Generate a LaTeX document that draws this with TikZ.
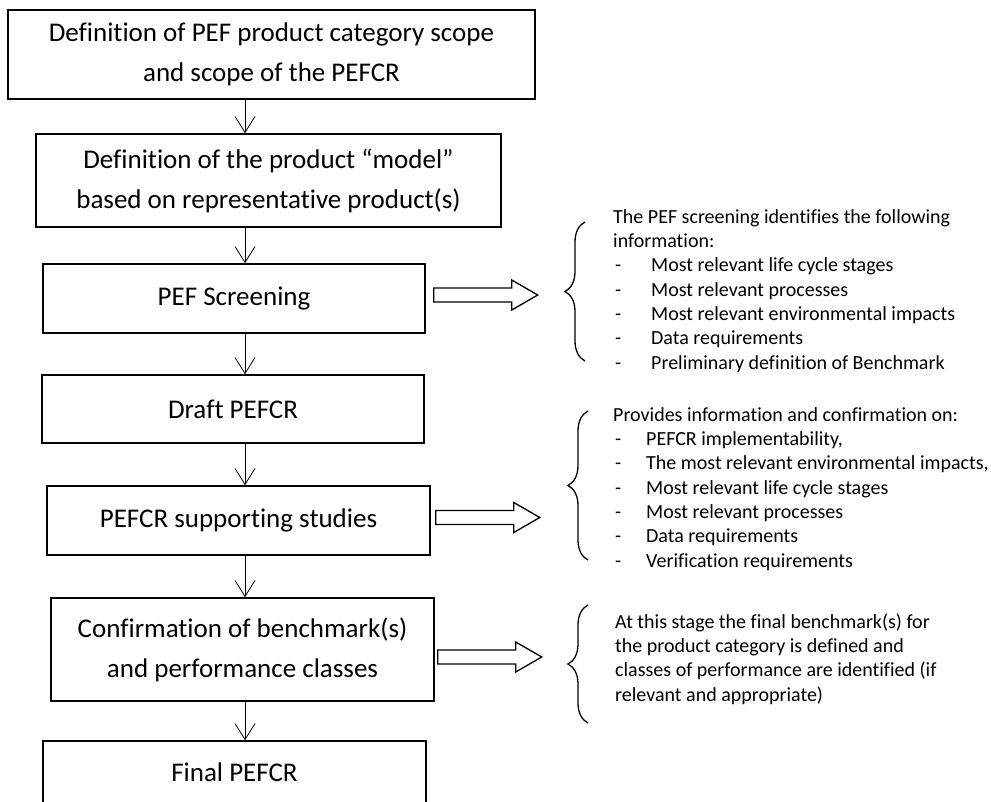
\documentclass[tikz,border=0pt]{standalone}
\usepackage{fontspec}
\setmainfont{Carlito}[Ligatures=NoCommon]
\usepackage{tikz}
\usetikzlibrary{arrows.meta,decorations.pathreplacing,calc}
\newcommand{\itemdash}[1]{\makebox[#1][l]{\hspace{2pt}-}}

\begin{document}
\begin{tikzpicture}[x=1pt, y=-1pt,
            stagebox/.style={draw, line width=1.5pt, inner sep=0pt, align=center,
                font=\fontsize{27}{40}\selectfont},
            flow/.style={-{Straight Barb[length=16pt, width=20pt]}, line width=0.8pt},
            infobrace/.style={decorate, decoration={brace, amplitude=20pt}, line width=1.3pt},
            infotext/.style={anchor=north west, align=left, inner sep=0pt,
                font=\fontsize{20}{24.3}\selectfont},
            fatarrow/.pic={\draw[line width=1.3pt] (0,-7) -- (78,-7) -- (78,-15) -- (104,0)
                -- (78,15) -- (78,7) -- (0,7) -- cycle;}]
            \useasboundingbox (0,0) rectangle (991,802);
            \coordinate (axis) at (245, 0);
            \node at (271.5, 54.5) [stagebox, minimum width=527, minimum height=89] (b1)
                {Definition of PEF product category scope\\and scope of the PEFCR};
            \node at (268.5, 180.5) [stagebox, minimum width=465, minimum height=93] (b2)
                {Definition of the product “model”\\based on representative product(s)};
            \node at (234, 298.5) [stagebox, minimum width=382, minimum height=69] (b3) {PEF Screening};
            \node at (233, 409) [stagebox, minimum width=382, minimum height=68] (b4) {Draft PEFCR};
            \node at (238.5, 520.5) [stagebox, minimum width=383, minimum height=69] (b5) {PEFCR supporting studies};
            \node at (242.5, 649.5) [stagebox, minimum width=383, minimum height=103] (b6)
                {Confirmation of benchmark(s)\\and performance classes};
            \node at (234.5, 772) [stagebox, minimum width=383, minimum height=62] (b7) {Final PEFCR};
            \draw [flow] (b1.south -| axis) -- (b2.north -| axis);
            \draw [flow] (b2.south -| axis) -- (b3.north -| axis);
            \draw [flow] (b3.south -| axis) -- (b4.north -| axis);
            \draw [flow] (b4.south -| axis) -- (b5.north -| axis);
            \draw [flow] (b5.south -| axis) -- (b6.north -| axis);
            \draw [flow] (b6.south -| axis) -- (b7.north -| axis);
            \pic at ($(b3.east)+(8,-3.5)$) {fatarrow};
            \pic at ($(b5.east)+(5,-3)$) {fatarrow};
            \pic at ($(b6.east)+(3,7.5)$) {fatarrow};
            \draw [infobrace] (585, 361) -- (585, 222);
            \draw [infobrace] (588, 560) -- (588, 411);
            \draw [infobrace] (588, 723) -- (588, 605);
            \node at (613, 206) [infotext] (t1) {\strut The PEF screening identifies the following\\
                information:\\
                \itemdash{38pt}Most relevant life cycle stages\\
                \itemdash{38pt}Most relevant processes\\
                \itemdash{38pt}Most relevant environmental impacts\\
                \itemdash{38pt}Data requirements\\
                \itemdash{38pt}Preliminary definition of Benchmark};
            \node at (613, 404) [infotext] (t2) {\strut Provides information and confirmation on:\\
                \itemdash{33pt}PEFCR implementability,\\
                \itemdash{33pt}The most relevant environmental impacts,\\
                \itemdash{33pt}Most relevant life cycle stages\\
                \itemdash{33pt}Most relevant processes\\
                \itemdash{33pt}Data requirements\\
                \itemdash{33pt}Verification requirements};
            \node at (615, 611) [infotext] (t3) {\strut At this stage the final benchmark(s) for\\
                the product category is defined and\\
                classes of performance are identified (if\\
                relevant and appropriate)};
        \end{tikzpicture}
\end{document}
